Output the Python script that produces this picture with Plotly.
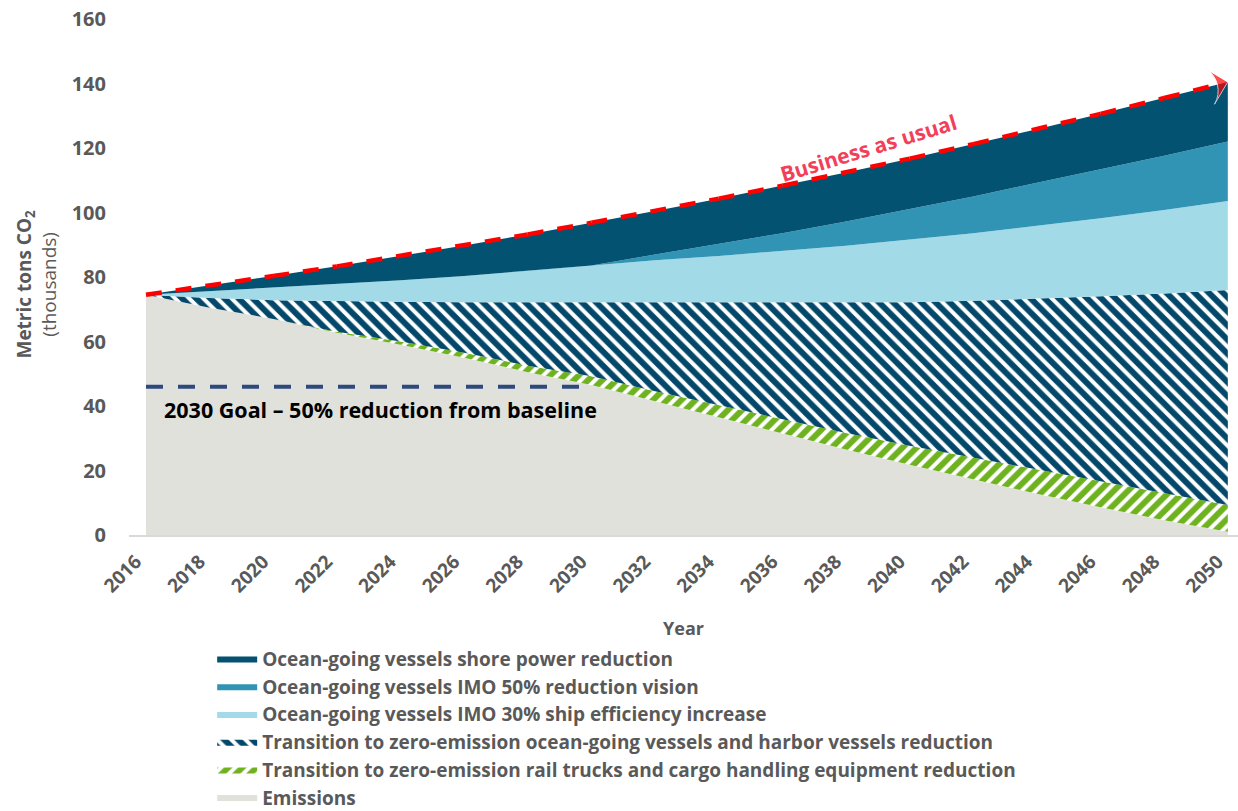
"""
Port CO2 emissions outlook 2016-2050: business as usual vs. reduction strategies.
Stacked area chart (Plotly), values read off the source figure.
"""
import plotly.graph_objects as go

# --- data (thousands of metric tons CO2) ---
years = [2016, 2018, 2020, 2022, 2024, 2026, 2028, 2030, 2032,
         2034, 2036, 2038, 2040, 2042, 2044, 2046, 2048, 2050]

emissions = [74.5, 70.5, 67.0, 62.7, 59.0, 55.0, 50.5, 46.5, 41.5,
             36.5, 31.5, 26.5, 21.8, 17.2, 12.8, 8.6, 4.6, 1.0]
rail_che = [0, 0, 0, 0.3, 1.0, 1.5, 2.0, 2.7, 3.1,
            3.7, 4.5, 5.1, 5.9, 6.8, 7.4, 7.9, 8.2, 8.3]
zero_ogv_hv = [0, 3.0, 5.8, 9.5, 12.3, 15.7, 19.7, 22.9, 27.4,
               31.8, 36.0, 40.4, 44.5, 48.6, 53.0, 57.5, 62.1, 66.7]
imo_30 = [0, 2.1, 3.8, 5.2, 6.7, 8.1, 9.8, 11.5, 13.2,
          14.5, 16.0, 17.7, 19.4, 21.0, 22.7, 24.2, 25.9, 27.6]
imo_50 = [0, 0, 0, 0, 0, 0, 0, 0, 1.8,
          3.7, 5.6, 7.5, 9.4, 11.4, 13.3, 15.1, 16.8, 18.4]
shore_power = [0, 1.7, 3.7, 5.6, 7.5, 9.5, 11.2, 13.2, 13.5,
               14.1, 14.7, 15.2, 15.7, 16.2, 16.6, 17.3, 17.9, 18.5]
bau = [74.5, 77.3, 80.3, 83.3, 86.5, 89.8, 93.2, 96.8, 100.5,
       104.3, 108.3, 112.4, 116.7, 121.2, 125.8, 130.6, 135.5, 140.5]

goal_years = [2016, 2030]
goal_level = [46, 46]

tick_years = list(range(2016, 2051, 2))
y_ticks = [0, 20, 40, 60, 80, 100, 120, 140, 160]

FONT = "Open Sans"
GREY_TXT = "#595959"
NBSP = "&nbsp;" * 3  # nudges the rotated y title a little downwards

layers = [
    ("Emissions", emissions, "#E1E1DC", None),
    ("Transition to zero-emission rail trucks and cargo handling equipment reduction",
     rail_che, "#FFFFFF",
     dict(shape="/", fgcolor="#6FB21F", bgcolor="#FFFFFF", fgopacity=1, size=10, solidity=0.6)),
    ("Transition to zero-emission ocean-going vessels and harbor vessels reduction",
     zero_ogv_hv, "#FFFFFF",
     dict(shape="\\", fgcolor="#03486A", bgcolor="#FFFFFF", fgopacity=1, size=10, solidity=0.6)),
    ("Ocean-going vessels IMO 30% ship efficiency increase", imo_30, "#A3DAE8", None),
    ("Ocean-going vessels IMO 50% reduction vision", imo_50, "#3194B5", None),
    ("Ocean-going vessels shore power reduction", shore_power, "#045271", None),
]

fig = go.Figure()

for name, vals, color, pattern in layers:
    tr = go.Scatter(
        x=years, y=vals, name=name, mode="lines",
        stackgroup="co2", line=dict(width=0), fillcolor=color,
    )
    if pattern:
        tr.fillpattern = pattern
    fig.add_trace(tr)

# business as usual, dashed with arrow head at the end
fig.add_trace(go.Scatter(
    x=years, y=bau, mode="lines+markers", showlegend=False,
    line=dict(color="#FF0000", width=4.5, dash="16px,14px"),
    marker=dict(symbol="arrow-wide", angleref="previous", color="#FF0000",
                size=[0] * (len(years) - 1) + [26]),
))

# 2030 goal
fig.add_trace(go.Scatter(
    x=goal_years, y=goal_level, mode="lines", showlegend=False,
    line=dict(color="#2E4A7D", width=4, dash="17px,15px"),
))

fig.add_annotation(
    x=2038.7, y=120, text="<b>Business as usual</b>", showarrow=False,
    textangle=-17, font=dict(family=FONT, size=21, color="#F2405B"),
)
fig.add_annotation(
    x=2016.5, y=38.8, xanchor="left", text="<b>2030 Goal \u2013 50% reduction from baseline</b>",
    showarrow=False, font=dict(family=FONT, size=21.5, color="#000000"),
)

fig.update_layout(
    width=1238, height=811,
    margin=dict(l=129, r=0, t=19, b=276, autoexpand=False),
    plot_bgcolor="white", paper_bgcolor="white",
    font=dict(family=FONT, color=GREY_TXT),
    showlegend=True,
    legend=dict(
        traceorder="reversed", orientation="v",
        x=0.075, xanchor="left", y=-0.203, yanchor="top",
        font=dict(family=FONT, size=19, color=GREY_TXT, weight="bold"),
        itemwidth=40, tracegroupgap=0, bgcolor="rgba(0,0,0,0)",
    ),
    xaxis=dict(
        range=[2015.466, 2050.32], tickvals=tick_years, tickangle=-45,
        tickfont=dict(family=FONT, size=19, color=GREY_TXT, weight="bold"),
        ticklabelstandoff=6, ticklabelshift=-10,
        showgrid=False, zeroline=False, showline=True, linecolor="#D9D9D9", linewidth=2,
        ticks="", automargin=False,
        title=dict(text="<b>Year</b>", font=dict(family=FONT, size=18, color=GREY_TXT), standoff=25),
    ),
    yaxis=dict(
        range=[0, 160], tickvals=y_ticks, ticklabeloverflow="allow",
        tickfont=dict(family=FONT, size=20, color=GREY_TXT, weight="bold"),
        ticklabelstandoff=22,
        showgrid=False, zeroline=False, showline=False, ticks="",
        automargin=False,
        title=dict(text="<b>Metric tons CO<sub>2</sub></b>" + NBSP + "<br>(thousands)" + NBSP,
                   font=dict(family=FONT, size=19, color=GREY_TXT), standoff=10),
    ),
)

# drop the default 8px body margin so the figure sits flush in the window
fig.write_html("out.html", config={"displayModeBar": False},
               post_script="document.body.style.margin = '0';")
